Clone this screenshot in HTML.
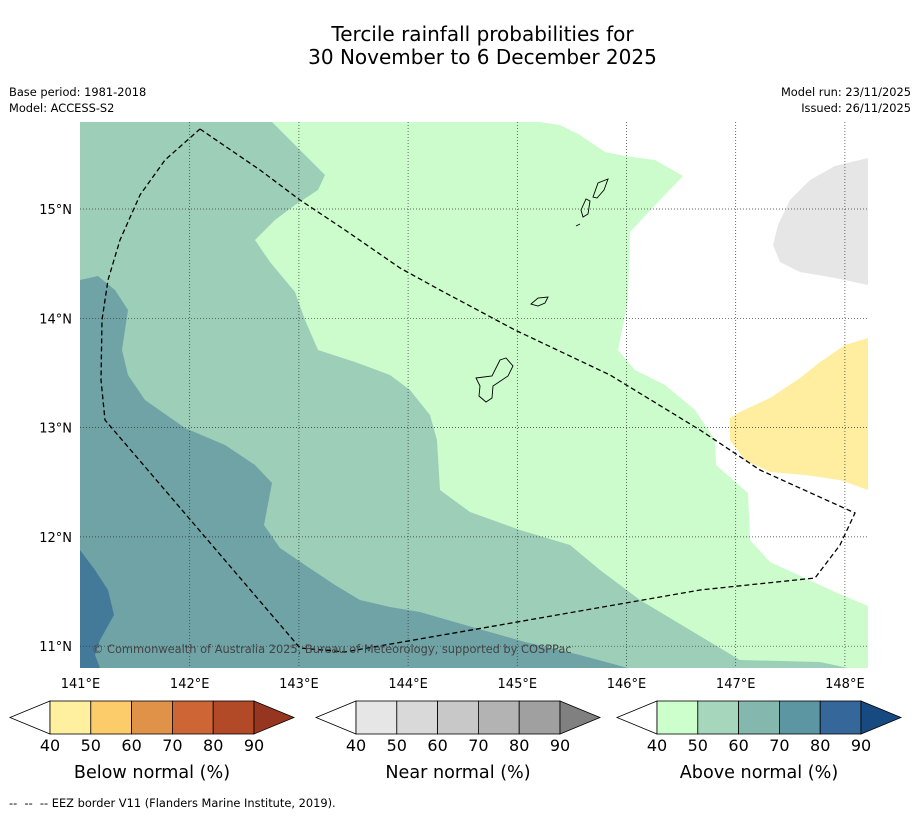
<!DOCTYPE html>
<html><head><meta charset="utf-8"><style>
body{margin:0;background:#fff;font-family:"DejaVu Sans","Liberation Sans",sans-serif;}
#wrap{position:relative;width:919px;height:816px;overflow:hidden;}
.t{position:absolute;white-space:nowrap;color:#000;}
</style></head><body>
<div id="wrap">
<div class="t" style="left:0;width:965px;top:23px;text-align:center;font-size:20px;line-height:23px;">Tercile rainfall probabilities for<br>30 November to 6 December 2025</div>
<div class="t" style="left:9px;top:84px;font-size:11.4px;line-height:16px;">Base period: 1981-2018<br>Model: ACCESS-S2</div>
<div class="t" style="right:8px;top:84px;font-size:11.4px;line-height:16px;text-align:right;">Model run: 23/11/2025<br>Issued: 26/11/2025</div>
<div class="t" style="left:9px;top:796px;font-size:11.4px;">-- &nbsp;-- &nbsp;-- EEZ border V11 (Flanders Marine Institute, 2019).</div>
<svg id="svg" width="919" height="816" style="position:absolute;left:0;top:0"></svg>
</div>
<script>
const lonTicks=[141,142,143,144,145,146,147,148];
const latTicks=[11,12,13,14,15];
const cbLabels=[40,50,60,70,80,90];
const belowColors=["#fff0a0","#fdcc6a","#e09248","#cd6634","#b34a27","#963520"];
const nearColors=["#e6e6e6","#d9d9d9","#c8c8c8","#b3b3b3","#a0a0a0","#808080"];
const aboveColors=["#ccffcc","#a6d6bb","#84b8ae","#5b96a2","#36679a","#174a80"];
const X0=80.5,KX=109.2,Y15=209,KY=109.3;
function px(lon){return X0+(lon-141)*KX;}
function py(lat){return Y15-(lat-15)*KY;}
function ll(p){return p.map(([x,y])=>[141+(x-X0)/KX,15-(y-Y15)/KY]);}
const regionLight=ll([[272,122],[540,122],[560,125],[580,135],[605,152],[625,156],[655,160],[683,176],[660,200],[630,232],[628,300],[618,350],[635,370],[665,385],[695,410],[715,440],[716,465],[748,493],[750,540],[770,562],[805,578],[835,592],[868,606],[868,668],[80,668],[80,122]]);
const regionMed=ll([[80,122],[272,122],[285,135],[305,155],[325,175],[318,190],[295,205],[275,220],[255,240],[270,262],[295,292],[305,320],[318,350],[355,362],[390,375],[410,390],[430,415],[437,440],[440,490],[470,512],[520,530],[570,545],[600,570],[640,600],[690,630],[740,660],[820,662],[848,668],[80,668]]);
const regionDark=ll([[80,280],[98,276],[115,290],[128,310],[122,350],[128,375],[145,400],[185,428],[225,445],[255,465],[272,483],[264,525],[280,548],[305,565],[335,585],[360,600],[390,607],[420,612],[465,625],[525,642],[580,655],[628,668],[80,668]]);
const regionDarkest=ll([[80,550],[95,570],[108,590],[114,615],[100,640],[95,655],[100,668],[80,668]]);
const regionGray=ll([[868,158],[835,166],[810,180],[790,200],[778,225],[773,245],[780,262],[800,272],[835,278],[868,285]]);
const regionYellow=ll([[868,338],[845,345],[820,362],[800,378],[770,398],[740,412],[730,418],[730,440],[745,460],[770,472],[805,475],[840,480],[868,490]]);
const eez=ll([[200,129],[260,170],[300,200],[345,230],[400,268],[440,290],[515,330],[610,375],[700,430],[760,470],[855,513],[840,545],[815,578],[700,590],[500,625],[345,652],[300,648],[105,420],[101,380],[102,320],[108,280],[120,240],[140,195],[165,160],[200,129]]);
const islands=[ll([[476,378],[492,376],[500,360],[506,358],[513,366],[508,376],[493,386],[492,398],[486,402],[479,396],[480,386]]),ll([[531,304],[538,298],[548,297],[545,303],[538,306]]),ll([[593,197],[598,183],[608,179],[604,190],[597,198]]),ll([[581,210],[586,199],[590,201],[588,214],[583,217]]),ll([[576,226],[580,224]])];
const NS="http://www.w3.org/2000/svg";
const svg=document.getElementById('svg');
function el(t,a){const e=document.createElementNS(NS,t);for(const k in a)e.setAttribute(k,a[k]);svg.appendChild(e);return e;}
function pts(p){return p.map(([lo,la])=>px(lo).toFixed(1)+','+py(la).toFixed(1)).join(' ');}
const clip=el('clipPath',{id:'mc'});const cr=document.createElementNS(NS,'rect');
cr.setAttribute('x',80);cr.setAttribute('y',122);cr.setAttribute('width',788);cr.setAttribute('height',546);clip.appendChild(cr);
const g=el('g',{'clip-path':'url(#mc)'});
function poly(p,fill,name,extra){const e=document.createElementNS(NS,'polygon');e.setAttribute('points',pts(p));e.setAttribute('fill',fill);if(extra)for(const k in extra)e.setAttribute(k,extra[k]);


g.appendChild(e);return e;}
poly(regionLight,'#ccfccb','above-40-50');
poly(regionMed,'#9dcfb8','above-50-60');
poly(regionDark,'#6fa3a6','above-60-70');
poly(regionDarkest,'#447a99','above-70-80');
poly(regionGray,'#e6e6e6','near-40-50');
poly(regionYellow,'#ffeda0','below-40-50');
lonTicks.slice(1).forEach(lo=>{const l=document.createElementNS(NS,'line');l.setAttribute('x1',px(lo));l.setAttribute('x2',px(lo));l.setAttribute('y1',122);l.setAttribute('y2',668);l.setAttribute('stroke','#333');l.setAttribute('stroke-width','0.7');l.setAttribute('stroke-dasharray','1,2');


g.appendChild(l);});
latTicks.forEach(la=>{const l=document.createElementNS(NS,'line');l.setAttribute('x1',80);l.setAttribute('x2',868);l.setAttribute('y1',py(la));l.setAttribute('y2',py(la));l.setAttribute('stroke','#333');l.setAttribute('stroke-width','0.7');l.setAttribute('stroke-dasharray','1,2');


g.appendChild(l);});
islands.forEach((p,i)=>{poly(p,'none','island-'+i,{stroke:'#000','stroke-width':'0.9'});});
const ez=document.createElementNS(NS,'polyline');ez.setAttribute('points',pts(eez));ez.setAttribute('fill','none');ez.setAttribute('stroke','#000');ez.setAttribute('stroke-width','1.3');ez.setAttribute('stroke-dasharray','5,3');


g.appendChild(ez);
const cp=el('text',{x:92,y:653,'font-size':11.4,fill:'#444','font-family':'DejaVu Sans, Liberation Sans, sans-serif'});cp.textContent='© Commonwealth of Australia 2025, Bureau of Meteorology, supported by COSPPac';


lonTicks.forEach(lo=>{const t=el('text',{x:px(lo),y:688,'font-size':13,'text-anchor':'middle','font-family':'DejaVu Sans, Liberation Sans, sans-serif'});t.textContent=lo+'°E';

});
latTicks.forEach(la=>{const t=el('text',{x:72,y:py(la)+5,'font-size':13,'text-anchor':'end','font-family':'DejaVu Sans, Liberation Sans, sans-serif'});t.textContent=la+'°N';

});
function cbar(x0,colors,title,name){const w=40.8,y=701,h=33,tw=40;
const tri1=el('polygon',{points:`${x0},${y+h/2} ${x0+tw},${y} ${x0+tw},${y+h}`,fill:'#fff',stroke:'#000','stroke-width':0.8});


colors.slice(0,5).forEach((c,i)=>{const r=el('rect',{x:x0+tw+i*w,y:y,width:w,height:h,fill:c,stroke:'#000','stroke-width':0.8});

});
const e=x0+tw+5*w;const tri2=el('polygon',{points:`${e},${y} ${e+tw},${y+h/2} ${e},${y+h}`,fill:colors[5],stroke:'#000','stroke-width':0.8});


cbLabels.forEach((v,i)=>{const t=el('text',{x:x0+tw+i*w,y:751,'font-size':16,'text-anchor':'middle','font-family':'DejaVu Sans, Liberation Sans, sans-serif'});t.textContent=v;

});
const tt=el('text',{x:x0+tw+2.5*w,y:778,'font-size':17.6,'text-anchor':'middle','font-family':'DejaVu Sans, Liberation Sans, sans-serif'});tt.textContent=title;

}
cbar(10,belowColors,'Below normal (%)','below-colorbar');
cbar(316,nearColors,'Near normal (%)','near-colorbar');
cbar(617,aboveColors,'Above normal (%)','above-colorbar');
</script>
</body></html>
